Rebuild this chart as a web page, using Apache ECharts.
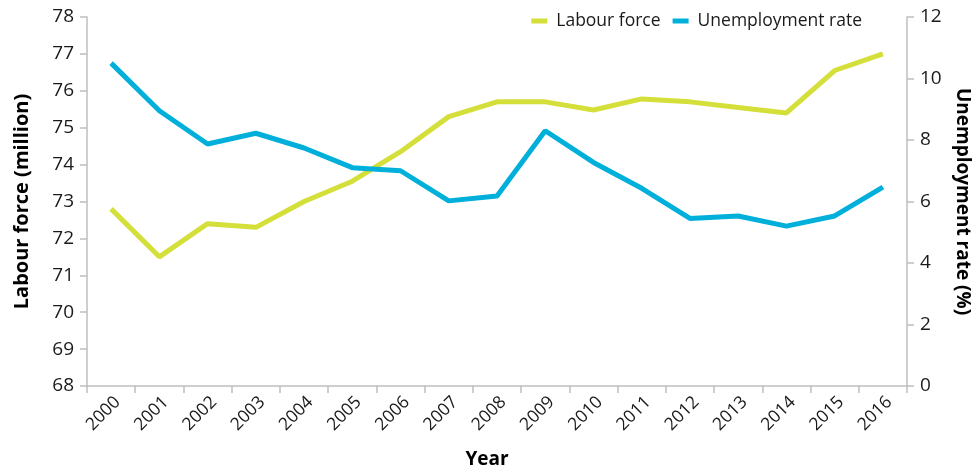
<!DOCTYPE html>
<html>
<head>
<meta charset="utf-8">
<script src="https://cdn.jsdelivr.net/npm/echarts@6/dist/echarts.min.js"></script>
<style>
  html, body { margin: 0; padding: 0; background: #ffffff; }
  #chart { width: 973px; height: 468px; }
</style>
</head>
<body>
<div id="chart"></div>
<script>
// Years on the horizontal axis
var years = ['2000','2001','2002','2003','2004','2005','2006','2007','2008',
             '2009','2010','2011','2012','2013','2014','2015','2016'];

// Labour force, million (left axis)
var labourForce = [72.8, 71.5, 72.4, 72.3, 73.0, 73.55, 74.35, 75.3, 75.7,
                   75.7, 75.48, 75.78, 75.7, 75.55, 75.4, 76.55, 77.0];

// Unemployment rate, % (right axis)
var unemploymentRate = [10.5, 8.95, 7.87, 8.22, 7.74, 7.1, 7.0, 6.02, 6.18,
                        8.3, 7.27, 6.43, 5.45, 5.53, 5.2, 5.53, 6.47];

var FONT = '"Open Sans", "Noto Sans", sans-serif';
var AXIS_GREY = '#bfbfbf';
var LIME = '#d4df3a';
var BLUE = '#00b0db';
var TEXT = '#1a1a1a';

var chart = echarts.init(document.getElementById('chart'), null, { renderer: 'canvas' });

chart.setOption({
  animation: false,
  textStyle: { fontFamily: FONT, color: TEXT },
  legend: {
    top: 7,
    right: 106,
    itemWidth: 16,
    itemHeight: 5,
    itemGap: 12,
    icon: 'rect',
    textStyle: { fontFamily: FONT, fontSize: 17.5, color: TEXT, padding: [0, 0, 0, 4] },
    data: ['Labour force', 'Unemployment rate']
  },
  grid: {
    left: 87, right: 66, top: 17, bottom: 82,
    containLabel: false,
    outerBoundsMode: 'none'
  },
  xAxis: {
    type: 'category',
    data: years,
    boundaryGap: true,
    name: 'Year',
    nameLocation: 'middle',
    nameGap: 64,
    nameTextStyle: { fontFamily: FONT, fontSize: 19, fontWeight: 'bold', color: '#000', padding: [0, 20, 0, 0] },
    axisLine: { lineStyle: { color: AXIS_GREY, width: 1.5 } },
    axisTick: { show: true, alignWithLabel: false, length: 7, lineStyle: { color: AXIS_GREY, width: 1.5 } },
    axisLabel: {
      rotate: 45, fontFamily: FONT, fontSize: 17.5, color: TEXT,
      margin: 7, interval: 0, align: 'right', verticalAlign: 'top'
    },
    splitLine: { show: false }
  },
  yAxis: [
    {
      type: 'value',
      min: 68, max: 78, interval: 1,
      position: 'left',
      name: 'Labour force (million)',
      nameLocation: 'middle',
      nameGap: 55,
      nameRotate: 90,
      nameTextStyle: { fontFamily: FONT, fontSize: 20, fontWeight: 'bold', color: '#000' },
      axisLine: { show: true, lineStyle: { color: AXIS_GREY, width: 1.5 } },
      axisTick: { show: true, length: 7, lineStyle: { color: AXIS_GREY, width: 1.5 } },
      axisLabel: { fontFamily: FONT, fontSize: 19, color: TEXT, margin: 13 },
      splitLine: { show: false }
    },
    {
      type: 'value',
      min: 0, max: 12, interval: 2,
      position: 'right',
      name: 'Unemployment rate (%)',
      nameLocation: 'middle',
      nameGap: 45,
      nameRotate: -90,
      nameTextStyle: { fontFamily: FONT, fontSize: 19, fontWeight: 'bold', color: '#000' },
      axisLine: { show: true, lineStyle: { color: AXIS_GREY, width: 1.5 } },
      axisTick: { show: true, length: 7, lineStyle: { color: AXIS_GREY, width: 1.5 } },
      axisLabel: { fontFamily: FONT, fontSize: 19, color: TEXT, margin: 13 },
      splitLine: { show: false }
    }
  ],
  series: [
    {
      name: 'Labour force',
      type: 'line',
      yAxisIndex: 0,
      data: labourForce,
      symbol: 'none',
      lineStyle: { color: LIME, width: 5 },
      itemStyle: { color: LIME }
    },
    {
      name: 'Unemployment rate',
      type: 'line',
      yAxisIndex: 1,
      data: unemploymentRate,
      symbol: 'none',
      lineStyle: { color: BLUE, width: 5 },
      itemStyle: { color: BLUE }
    }
  ]
});
</script>
</body>
</html>
